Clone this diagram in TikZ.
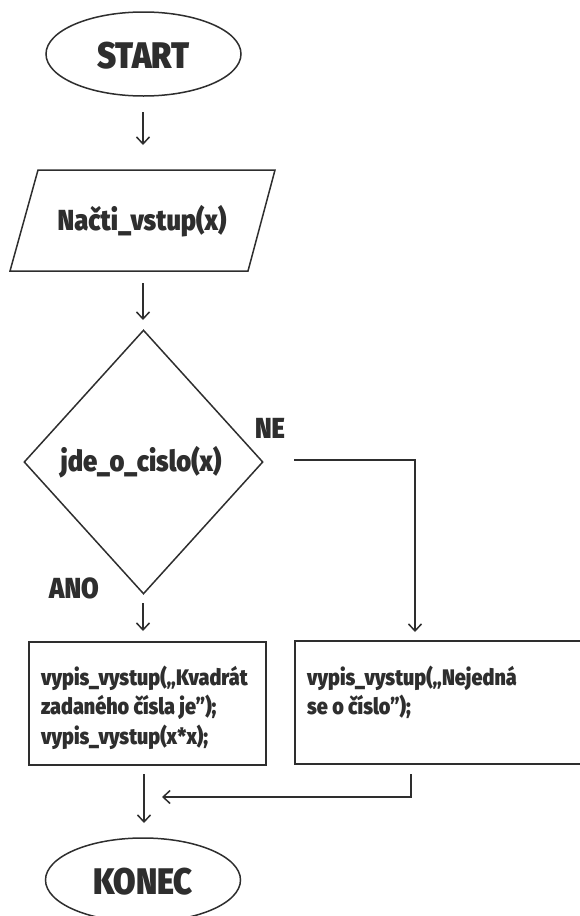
\documentclass[tikz,border=0pt]{standalone}
\usepackage{fontspec}
\setmainfont[FakeStretch=0.9,BoldFont={Fira Sans Black},BoldFeatures={FakeStretch=0.88}]{Fira Sans}
\usetikzlibrary{shapes.geometric,arrows.meta}
\definecolor{ink}{HTML}{2E2E2E}
\tikzset{
  line/.style={draw=ink,line width=1.5pt},
  arr/.style={line,-{Straight Barb[length=7pt,width=13pt,line width=1.5pt]}},
  term/.style={ellipse,draw=ink,line width=1.5pt,minimum width=195pt,minimum height=84pt,inner sep=0pt},
  bigtxt/.style={text=ink,font=\bfseries\fontsize{37}{40}\selectfont,inner sep=0pt},
  midtxt/.style={text=ink,font=\bfseries\fontsize{29}{32}\selectfont,inner sep=0pt},
  smalltxt/.style={text=ink,font=\bfseries\fontsize{22.5}{29}\selectfont,inner sep=0pt,align=left},
  box/.style={draw=ink,line width=1.5pt,rectangle,inner sep=0pt},
  dec/.style={diamond,draw=ink,line width=1.5pt,inner sep=0pt,minimum width=239pt,minimum height=264pt}
}
\begin{document}
\begin{tikzpicture}[x=1pt,y=-1pt]
\useasboundingbox (0,0) rectangle (579,916);
% START
\node[term] (start) at (143.5,54) {};
\node[bigtxt] (starttxt) at (143.5,56) {START};
% arrow 1
\coordinate (a1s) at (143,112);
\coordinate (a1e) at (143,145);
\draw[arr] (a1s) -- (a1e);
% input parallelogram
\coordinate (p1) at (38,170);
\coordinate (p2) at (275,170);
\coordinate (p3) at (248,271);
\coordinate (p4) at (10,271);
\draw[line,line join=miter] (p1) -- (p2) -- (p3) -- (p4) -- cycle;
\node[midtxt] (input) at (142,221) {Načti\_vstup(x)};
% arrow 2
\coordinate (a2s) at (143,283);
\coordinate (a2e) at (143,320);
\draw[arr] (a2s) -- (a2e);
% decision
\node[dec] (dec) at (143.5,462) {};
\node[midtxt] (dectxt) at (141,462) {jde\_o\_cislo(x)};
\node[midtxt] (ne) at (270,428) {NE};
\node[midtxt] (ano) at (74,588) {ANO};
% NE branch
\coordinate (nes) at (294,460);
\coordinate (nec) at (415,460);
\coordinate (nee) at (415,632);
\draw[arr,line join=miter] (nes) -- (nec) -- (nee);
% ANO branch
\coordinate (anos) at (143,603);
\coordinate (anoe) at (143,631);
\draw[arr] (anos) -- (anoe);
% boxes
\node[box,minimum width=237pt,minimum height=123pt] (boxl) at (147.5,703.5) {};
\node[smalltxt,anchor=base west] (txtl) at (41,685) {vypis\_vystup(„Kvadrát};
\node[smalltxt,anchor=base west] (txtl2) at (41,714) {zadaného čísla je”);};
\node[smalltxt,anchor=base west] (txtl3) at (41,744) {vypis\_vystup(x*x);};
\node[box,minimum width=300pt,minimum height=123pt] (boxr) at (445,702.5) {};
\node[smalltxt,anchor=base west] (txtr) at (307,685) {vypis\_vystup(„Nejedná};
\node[smalltxt,anchor=base west] (txtr2) at (307,714) {se o číslo”);};
% arrows to end
\coordinate (a3s) at (144,774);
\coordinate (a3e) at (144,823);
\draw[arr] (a3s) -- (a3e);
\coordinate (rs) at (411,774);
\coordinate (rc) at (411,797);
\coordinate (re) at (162,797);
\draw[arr,line join=miter] (rs) -- (rc) -- (re);
% KONEC
\node[term] (konec) at (143,880) {};
\node[bigtxt] (konectxt) at (143,882) {KONEC};
\end{tikzpicture}
\end{document}
